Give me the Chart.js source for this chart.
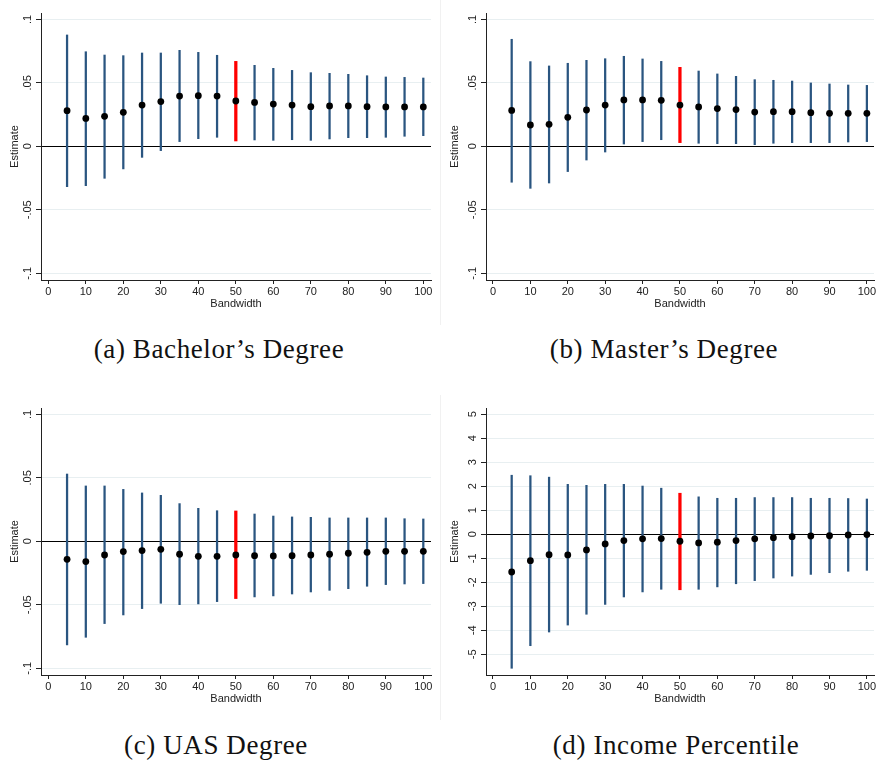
<!DOCTYPE html>
<html>
<head>
<meta charset="utf-8">
<script src="https://cdn.jsdelivr.net/npm/chart.js@4.4.1/dist/chart.umd.min.js"></script>
<style>
    body { margin: 0; background: #fff; width: 878px; height: 763px; position: relative; overflow: hidden; }
    canvas { position: absolute; }
    .caption {
        position: absolute; width: 400px; text-align: center;
        font-family: "Liberation Serif", "Times New Roman", serif;
        font-size: 27px; letter-spacing: 0.6px; color: #111; line-height: 30px;
    }
    .sep { position: absolute; width: 1px; background: #f1f1f1; }
</style>
</head>
<body>
<canvas id="chartA" width="440" height="320" style="left:0;top:0"></canvas>
<canvas id="chartB" width="438" height="320" style="left:440px;top:0"></canvas>
<canvas id="chartC" width="440" height="320" style="left:0;top:395px"></canvas>
<canvas id="chartD" width="438" height="320" style="left:440px;top:395px"></canvas>
<div class="sep" style="left:440px;top:0;height:325px"></div>
<div class="sep" style="left:440px;top:395px;height:325px"></div>
<div class="caption" style="left:19px;top:334px">(a) Bachelor’s Degree</div>
<div class="caption" style="left:464px;top:334px">(b) Master’s Degree</div>
<div class="caption" style="left:16px;top:730px">(c) UAS Degree</div>
<div class="caption" style="left:476px;top:730px">(d) Income Percentile</div>

<script>
// Bandwidths
const bandwidth = [5, 10, 15, 20, 25, 30, 35, 40, 45, 50, 55, 60, 65, 70, 75, 80, 85, 90, 95, 100];
const xTicks = [0, 10, 20, 30, 40, 50, 60, 70, 80, 90, 100];

// (a) Bachelor's Degree
const bachelorEst = [0.0281, 0.0220, 0.0236, 0.0268, 0.0325, 0.0352, 0.0396, 0.0399, 0.0396, 0.0357, 0.0346, 0.0333, 0.0325, 0.0312, 0.0318, 0.0318, 0.0312, 0.0310, 0.0310, 0.0310];
const bachelorLo  = [-0.0318, -0.0310, -0.0252, -0.0178, -0.0087, -0.0034, 0.0037, 0.0060, 0.0071, 0.0042, 0.0050, 0.0047, 0.0052, 0.0047, 0.0058, 0.0068, 0.0068, 0.0071, 0.0079, 0.0084];
const bachelorHi  = [0.0877, 0.0745, 0.0719, 0.0714, 0.0735, 0.0735, 0.0756, 0.0740, 0.0717, 0.0669, 0.0638, 0.0614, 0.0598, 0.0580, 0.0575, 0.0567, 0.0556, 0.0546, 0.0543, 0.0538];

// (b) Master's Degree
const masterEst = [0.0283, 0.0168, 0.0173, 0.0228, 0.0286, 0.0325, 0.0365, 0.0365, 0.0362, 0.0325, 0.0310, 0.0297, 0.0289, 0.0270, 0.0273, 0.0273, 0.0265, 0.0260, 0.0260, 0.0260];
const masterLo  = [-0.0283, -0.0331, -0.0289, -0.0199, -0.0108, -0.0045, 0.0018, 0.0037, 0.0052, 0.0029, 0.0024, 0.0021, 0.0021, 0.0013, 0.0024, 0.0029, 0.0029, 0.0029, 0.0034, 0.0037];
const masterHi  = [0.0843, 0.0667, 0.0633, 0.0654, 0.0677, 0.0690, 0.0709, 0.0688, 0.0669, 0.0622, 0.0593, 0.0570, 0.0551, 0.0525, 0.0520, 0.0514, 0.0499, 0.0491, 0.0483, 0.0480];

// (c) UAS Degree
const uasEst = [-0.0142, -0.0160, -0.0108, -0.0081, -0.0073, -0.0063, -0.0102, -0.0118, -0.0118, -0.0108, -0.0113, -0.0115, -0.0113, -0.0108, -0.0102, -0.0094, -0.0087, -0.0079, -0.0079, -0.0079];
const uasLo  = [-0.0816, -0.0756, -0.0648, -0.0580, -0.0530, -0.0488, -0.0499, -0.0493, -0.0475, -0.0451, -0.0438, -0.0430, -0.0415, -0.0399, -0.0386, -0.0373, -0.0354, -0.0341, -0.0336, -0.0333];
const uasHi  = [0.0530, 0.0436, 0.0436, 0.0409, 0.0381, 0.0362, 0.0297, 0.0260, 0.0241, 0.0239, 0.0215, 0.0199, 0.0192, 0.0189, 0.0184, 0.0184, 0.0184, 0.0184, 0.0178, 0.0176];

// (d) Income Percentile
const incomeEst = [-1.57, -1.10, -0.85, -0.86, -0.65, -0.40, -0.26, -0.19, -0.18, -0.29, -0.36, -0.33, -0.26, -0.19, -0.14, -0.10, -0.07, -0.06, -0.03, -0.01];
const incomeLo  = [-5.58, -4.64, -4.07, -3.78, -3.33, -2.92, -2.61, -2.40, -2.29, -2.31, -2.29, -2.19, -2.06, -1.93, -1.82, -1.74, -1.67, -1.60, -1.54, -1.50];
const incomeHi  = [2.46, 2.44, 2.38, 2.08, 2.04, 2.08, 2.08, 2.01, 1.92, 1.71, 1.56, 1.50, 1.50, 1.53, 1.53, 1.53, 1.50, 1.50, 1.49, 1.47];

// y ticks
const shareTicks  = [0.1, 0.05, 0, -0.05, -0.1];
const shareLabels = ['.1', '.05', '0', '-.05', '-.1'];
const incomeTicks  = [5, 4, 3, 2, 1, 0, -1, -2, -3, -4, -5];
const incomeLabels = ['5', '4', '3', '2', '1', '0', '-1', '-2', '-3', '-4', '-5'];

const chosenBandwidth = 50;
const FONT = '"Liberation Sans", Arial, sans-serif';

// Stata draws y tick labels turned on their side
const rotatedYLabels = {
    id: 'rotatedYLabels',
    afterDraw(chart, args, opts) {
        const y = chart.scales.y;
        const ctx = chart.ctx;
        ctx.save();
        ctx.fillStyle = '#222';
        ctx.font = '11px ' + FONT;
        ctx.textAlign = 'center';
        ctx.textBaseline = 'middle';
        opts.values.forEach((v, i) => {
            ctx.save();
            ctx.translate(chart.chartArea.left - 13, y.getPixelForValue(v));
            ctx.rotate(-Math.PI / 2);
            ctx.fillText(opts.labels[i], 0, 0);
            ctx.restore();
        });
        ctx.restore();
    }
};

function makePanel(id, est, lo, hi, cfg) {
    const ctx = document.getElementById(id).getContext('2d');
    const ci = bandwidth.map((b, i) => ({ x: b, y: [lo[i], hi[i]] }));

    return new Chart(ctx, {
        type: 'bar',
        data: {
            datasets: [
                {
                    type: 'scatter',
                    data: bandwidth.map((b, i) => ({ x: b, y: est[i] })),
                    pointRadius: 3.4,
                    pointBackgroundColor: '#000',
                    pointBorderWidth: 0,
                    order: 0
                },
                {
                    data: ci.filter(d => d.x === chosenBandwidth),
                    backgroundColor: '#ff0000',
                    barThickness: 2.6,
                    grouped: false,
                    order: 1
                },
                {
                    data: ci.filter(d => d.x !== chosenBandwidth),
                    backgroundColor: '#2a5580',
                    barThickness: 1.6,
                    grouped: false,
                    order: 2
                }
            ]
        },
        options: {
            responsive: false,
            animation: false,
            layout: { padding: { top: 13, right: cfg.padRight, left: 0, bottom: 0 } },
            plugins: {
                legend: { display: false },
                tooltip: { enabled: false },
                rotatedYLabels: { values: cfg.yTicks, labels: cfg.yLabels }
            },
            scales: {
                x: {
                    type: 'linear',
                    min: cfg.xMin,
                    max: cfg.xMax,
                    offset: false,
                    afterBuildTicks: s => { s.ticks = xTicks.map(v => ({ value: v })); },
                    afterFit: s => { s.height = 40; },
                    grid: { drawOnChartArea: false, drawTicks: true, tickLength: 4, tickColor: '#222', offset: false },
                    border: { color: '#222', width: 1 },
                    ticks: { color: '#222', font: { size: 11, family: FONT }, padding: 1, maxRotation: 0, autoSkip: false, callback: v => String(v) },
                    title: { display: true, text: 'Bandwidth', color: '#222', font: { size: 11, family: FONT }, padding: { top: 0, bottom: 9 } }
                },
                y: {
                    type: 'linear',
                    min: cfg.yMin,
                    max: cfg.yMax,
                    afterBuildTicks: s => { s.ticks = cfg.yTicks.map(v => ({ value: v })); },
                    afterFit: s => { s.width = cfg.axisLeft; },
                    grid: {
                        color: c => (c.tick && c.tick.value === 0) ? '#000' : '#e8eff1',
                        lineWidth: 1,
                        drawTicks: true,
                        tickLength: 5,
                        tickColor: '#222'
                    },
                    border: { color: '#222', width: 1 },
                    ticks: { display: false },
                    title: { display: true, text: 'Estimate', color: '#222', font: { size: 11, family: FONT }, padding: { top: 8, bottom: 0 } }
                }
            }
        },
        plugins: [rotatedYLabels]
    });
}

const leftCfg  = { axisLeft: 41, padRight: 9, xMin: -1.95, xMax: 102.05 };
const rightCfg = { axisLeft: 46, padRight: 3, xMin: -1.87, xMax: 101.9 };
const shareRange  = { yMin: -0.1053, yMax: 0.105, yTicks: shareTicks, yLabels: shareLabels };
const incomeRange = { yMin: -5.86, yMax: 5.26, yTicks: incomeTicks, yLabels: incomeLabels };

makePanel('chartA', bachelorEst, bachelorLo, bachelorHi, { ...leftCfg, ...shareRange });
makePanel('chartB', masterEst, masterLo, masterHi, { ...rightCfg, ...shareRange });
makePanel('chartC', uasEst, uasLo, uasHi, { ...leftCfg, ...shareRange });
makePanel('chartD', incomeEst, incomeLo, incomeHi, { ...rightCfg, ...incomeRange });
</script>
</body>
</html>
